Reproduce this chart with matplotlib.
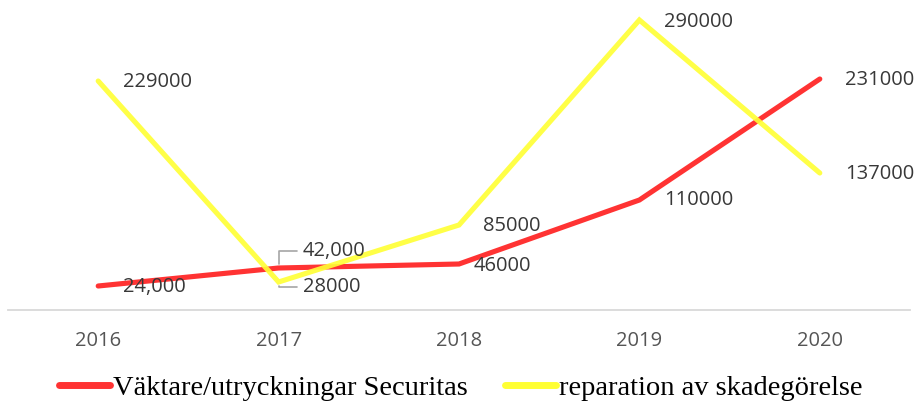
import matplotlib
matplotlib.use("Agg")
import matplotlib.pyplot as plt

years = ["2016", "2017", "2018", "2019", "2020"]
securitas = [24000, 42000, 46000, 110000, 231000]
reparation = [229000, 28000, 85000, 290000, 137000]
securitas_labels = ["24,000", "42,000", "46000", "110000", "231000"]
reparation_labels = ["229000", "28000", "85000", "290000", "137000"]

RED = "#ff3333"
YELLOW = "#ffff33"
LABEL_COLOR = "#383838"
TICK_COLOR = "#555555"
LABEL_FONT = "Open Sans"

fig = plt.figure(figsize=(9.16, 4.07), dpi=100)
ax = fig.add_axes([8 / 916, 97 / 407, 902 / 916, 300 / 407])

x = list(range(len(years)))
ax.plot(x, securitas, color=RED, lw=3.7, solid_capstyle="round",
        solid_joinstyle="miter", label="Väktare/utryckningar Securitas", zorder=2)
ax.plot(x, reparation, color=YELLOW, lw=3.7, solid_capstyle="round",
        solid_joinstyle="miter", alpha=0.9,
        label="reparation av skadegörelse", zorder=3)

ax.set_xlim(-0.5, len(years) - 0.5)
ax.set_ylim(0, 300000)
ax.set_xticks(x)
ax.set_xticklabels(years, fontfamily=LABEL_FONT, fontsize=14.5, color=TICK_COLOR)
ax.tick_params(axis="x", length=0, pad=15)
ax.set_yticks([])
for s in ["top", "left", "right"]:
    ax.spines[s].set_visible(False)
ax.spines["bottom"].set_color("#d9d9d9")
ax.spines["bottom"].set_linewidth(1.3)

# data labels, offset in pixels from the point (dx, dy)
sec_offsets = [(25, -1), (24, 17), (15, -2), (25, 0), (25, -1)]
rep_offsets = [(25, -1), (24, -5), (24, -1), (25, -2), (25, -1)]
leader = dict(arrowstyle="-", color="#a6a6a6", lw=1.2,
              connectionstyle="angle,angleA=0,angleB=90", shrinkA=2, shrinkB=3)

for i, (v, lab) in enumerate(zip(securitas, securitas_labels)):
    ap = leader if i == 1 else None
    ax.annotate(lab, (i, v), xytext=sec_offsets[i], textcoords="offset pixels",
                ha="left", va="center", fontsize=14.5, fontfamily=LABEL_FONT,
                color=LABEL_COLOR, arrowprops=ap, zorder=5)
for i, (v, lab) in enumerate(zip(reparation, reparation_labels)):
    ap = leader if i == 1 else None
    ax.annotate(lab, (i, v), xytext=rep_offsets[i], textcoords="offset pixels",
                ha="left", va="center", fontsize=14.5, fontfamily=LABEL_FONT,
                color=LABEL_COLOR, arrowprops=ap, zorder=5)

leg = fig.legend(loc="center", bbox_to_anchor=(0.503, 19 / 407), ncol=2,
                 frameon=False, prop={"family": "Liberation Serif", "size": 20.5},
                 handlelength=1.8, handletextpad=0.1, columnspacing=1.3)
for line in leg.get_lines():
    line.set_linewidth(5)
    line.set_alpha(1)
for t in leg.get_texts():
    t.set_color("#000000")

fig.savefig("out.png", dpi=100)
